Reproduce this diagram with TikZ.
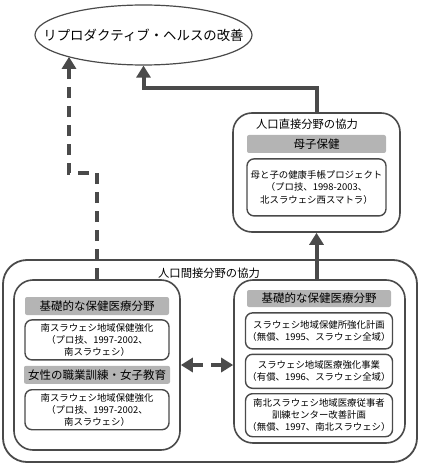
\documentclass[tikz,border=0pt]{standalone}
\usepackage{fontspec}
\setmainfont{Noto Sans CJK JP}
\usetikzlibrary{arrows.meta, positioning, shapes.geometric}
\definecolor{linegray}{HTML}{4A4A4A}
\definecolor{bargray}{HTML}{B4B4B4}

\begin{document}
\begin{tikzpicture} [
						x=1pt, y=-1pt,
						>={Triangle[length=12pt,width=14pt]},
						goalshape/.style={ellipse, draw=linegray, line width=1.2pt, minimum width=217pt, minimum height=60pt, inner sep=0pt, font=\fontsize{13.4}{15}\selectfont},
						bigbox/.style={draw=linegray, line width=1.8pt, rounded corners=24pt},
						groupbox/.style={draw=linegray, line width=1.6pt, rounded corners=19pt},
						bar/.style={fill=bargray, rounded corners=2pt, minimum height=18pt, inner sep=0pt, font=\fontsize{11.5}{13}\selectfont},
						item/.style={draw=linegray, line width=1.4pt, rounded corners=7pt, align=center, inner sep=1pt, font=\fontsize{9.4}{12.2}\selectfont},
						title/.style={inner sep=0pt, font=\fontsize{11.3}{13}\selectfont},
						mainarrow/.style={draw=linegray, line width=4pt, ->},
						sidearrow/.style={mainarrow, dash pattern=on 11pt off 8pt}
					]

\useasboundingbox (0,0) rectangle (420,465);

\node (goal) [goalshape] at (143.5,35) {\makebox[0pt]{リプロダクティブ・ヘルスの改善}};

% 人口直接分野
\node (direct) [groupbox, minimum width=167pt, minimum height=119pt] at (316.5,172.5) {};
\node (dtitle) [title] at (307,124) {人口直接分野の協力};
\node (mbar) [bar, minimum width=139pt] at (316.5,144) {母子保健};
\node (msub) [item, minimum width=139pt, minimum height=57pt, below=5pt of mbar] {母と子の健康手帳プロジェクト\\（プロ技、1998-2003、\\北スラウェシ西スマトラ）};

% 人口間接分野
\node (indirect) [bigbox, minimum width=414pt, minimum height=202pt] at (210,361) {};
\node (ititle) [title] at (209,273) {人口間接分野の協力};

\node (left) [groupbox, minimum width=166pt, minimum height=170pt] at (97,365) {};
\node (lbar1) [bar, minimum width=144pt] at (97,306) {基礎的な保健医療分野};
\node (lsub1) [item, minimum width=144pt, minimum height=40pt, below=4pt of lbar1] {南スラウェシ地域保健強化\\（プロ技、1997-2002、\\南スラウェシ）};
\node (lbar2) [bar, minimum width=146pt, below=5pt of lsub1] {女性の職業訓練・女子教育};
\node (lsub2) [item, minimum width=144pt, minimum height=40pt, below=5pt of lbar2] {南スラウェシ地域保健強化\\（プロ技、1997-2002、\\南スラウェシ）};

\node (right) [groupbox, minimum width=171pt, minimum height=163pt] at (319.5,361.5) {};
\node (rbar) [bar, minimum width=144pt, minimum height=17pt] at (319,298.5) {基礎的な保健医療分野};
\node (rsub1) [item, minimum width=147pt, minimum height=36pt, below=5pt of rbar] {スラウェシ地域保健所強化計画\\（無償、1995、スラウェシ全域）};
\node (rsub2) [item, minimum width=147pt, minimum height=34pt, below=4pt of rsub1] {スラウェシ地域医療強化事業\\（有償、1996、スラウェシ全域）};
\node (rsub3) [item, minimum width=147pt, minimum height=43pt, below=4pt of rsub2] {南北スラウェシ地域医療従事者\\訓練センター改善計画\\（無償、1997、南北スラウェシ）};

% arrows
\coordinate (bend) at (69,173);
\draw [sidearrow] (left.north) |- (bend) -- (bend |- goal.196);
\draw [mainarrow] (direct.north) -- ++(0,-24) -| (goal.south);
\draw [mainarrow] (right.north -| direct.south) -- (direct.south);
\draw [sidearrow, <->] (left.east) -- (left.east -| right.west);
\end{tikzpicture}
\end{document}
